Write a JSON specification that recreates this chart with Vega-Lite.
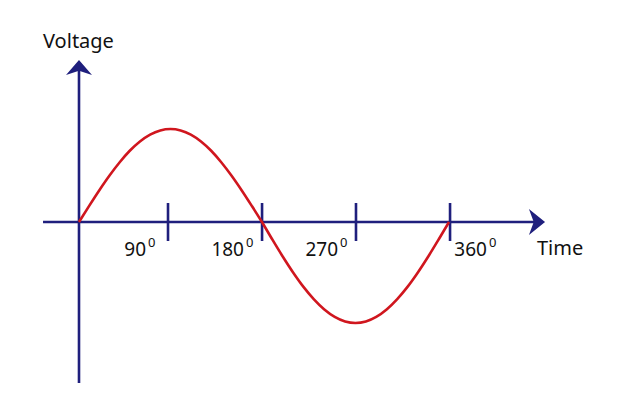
{
  "$schema": "https://vega.github.io/schema/vega-lite/v6.json",
  "width": 626,
  "height": 417,
  "autosize": "none",
  "padding": 0,
  "background": "white",
  "config": {"view": {"stroke": null}},
  "datasets": {
    "axes": [
      {"x": -35, "x2": 443.7, "y": 0, "y2": 0},
      {"x": 0, "x2": 0, "y": -1.61, "y2": 1.52}
    ],
    "ticks": [
      {"deg": 86.6, "lo": -0.19, "hi": 0.19},
      {"deg": 178.1, "lo": -0.19, "hi": 0.19},
      {"deg": 269.5, "lo": -0.19, "hi": 0.19},
      {"deg": 361, "lo": -0.19, "hi": 0.19}
    ],
    "wave": [
      {"deg": 0, "v": 0},
      {"deg": 9.9, "v": 0.1615},
      {"deg": 19.8, "v": 0.3181},
      {"deg": 29.7, "v": 0.465},
      {"deg": 39.6, "v": 0.5978},
      {"deg": 49.4, "v": 0.7124},
      {"deg": 59.3, "v": 0.8054},
      {"deg": 69.2, "v": 0.8739},
      {"deg": 79.1, "v": 0.9159},
      {"deg": 89, "v": 0.93},
      {"deg": 98.9, "v": 0.9159},
      {"deg": 108.8, "v": 0.8739},
      {"deg": 118.7, "v": 0.8054},
      {"deg": 128.6, "v": 0.7124},
      {"deg": 138.4, "v": 0.5978},
      {"deg": 148.3, "v": 0.465},
      {"deg": 158.2, "v": 0.3181},
      {"deg": 168.1, "v": 0.1615},
      {"deg": 178, "v": 0},
      {"deg": 188.1, "v": -0.1753},
      {"deg": 198.2, "v": -0.3454},
      {"deg": 208.3, "v": -0.505},
      {"deg": 218.4, "v": -0.6492},
      {"deg": 228.6, "v": -0.7737},
      {"deg": 238.7, "v": -0.8747},
      {"deg": 248.8, "v": -0.9491},
      {"deg": 258.9, "v": -0.9946},
      {"deg": 269, "v": -1.01},
      {"deg": 279.1, "v": -0.9946},
      {"deg": 289.2, "v": -0.9491},
      {"deg": 299.3, "v": -0.8747},
      {"deg": 309.4, "v": -0.7737},
      {"deg": 319.6, "v": -0.6492},
      {"deg": 329.7, "v": -0.505},
      {"deg": 339.8, "v": -0.3454},
      {"deg": 349.9, "v": -0.1753},
      {"deg": 360, "v": 0}
    ],
    "labels": [
      {"deg": 66.2, "v": -0.34, "num": "90", "sup": "0"},
      {"deg": 161.5, "v": -0.34, "num": "180", "sup": "0"},
      {"deg": 253.0, "v": -0.34, "num": "270", "sup": "0"},
      {"deg": 397.9, "v": -0.34, "num": "360", "sup": "0"}
    ],
    "titles": [
      {"deg": 445.6, "v": -0.33, "text": "Time"},
      {"deg": -35, "v": 1.74, "text": "Voltage"}
    ],
    "harrow": [{"deg": 445.6, "v": 0}],
    "varrow": [{"deg": 0, "v": 1.545}]
  },
  "encoding": {
    "x": {"field": "deg", "type": "quantitative", "scale": {"domain": [-76.86, 532.2], "nice": false, "zero": false}, "axis": null},
    "y": {"field": "v", "type": "quantitative", "scale": {"domain": [-1.95, 2.22], "nice": false, "zero": false}, "axis": null}
  },
  "layer": [
    {
      "data": {"name": "axes"},
      "mark": {"type": "rule", "color": "#1f1f7d", "strokeWidth": 2.6},
      "encoding": {
        "x": {"field": "x", "type": "quantitative"},
        "x2": {"field": "x2"},
        "y": {"field": "y", "type": "quantitative"},
        "y2": {"field": "y2"}
      }
    },
    {
      "data": {"name": "ticks"},
      "mark": {"type": "rule", "color": "#1f1f7d", "strokeWidth": 2.6},
      "encoding": {
        "y": {"field": "lo", "type": "quantitative"},
        "y2": {"field": "hi"}
      }
    },
    {
      "data": {"name": "wave"},
      "mark": {"type": "line", "color": "#d0161e", "strokeWidth": 2.6, "interpolate": "monotone"},
      "encoding": {}
    },
    {
      "data": {"name": "harrow"},
      "mark": {"type": "point", "shape": "M0.62,0 L-0.62,-1 L-0.25,0 L-0.62,1 Z", "size": 676, "filled": true, "opacity": 1, "color": "#1f1f7d", "strokeWidth": 0}
    },
    {
      "data": {"name": "varrow"},
      "mark": {"type": "point", "shape": "M0,-0.58 L1,0.58 L0,0.25 L-1,0.58 Z", "size": 676, "filled": true, "opacity": 1, "color": "#1f1f7d", "strokeWidth": 0}
    },
    {
      "data": {"name": "labels"},
      "mark": {"type": "text", "font": "Noto Sans", "fontSize": 19, "align": "right", "baseline": "alphabetic", "dx": -1, "color": "#111111"},
      "encoding": {"text": {"field": "num"}}
    },
    {
      "data": {"name": "labels"},
      "mark": {"type": "text", "font": "Noto Sans", "fontSize": 13, "align": "left", "baseline": "alphabetic", "dx": 1, "dy": -9, "color": "#111111"},
      "encoding": {"text": {"field": "sup"}}
    },
    {
      "data": {"name": "titles"},
      "mark": {"type": "text", "font": "Noto Sans", "fontSize": 20, "align": "left", "baseline": "alphabetic", "color": "#111111"},
      "encoding": {"text": {"field": "text"}}
    }
  ]
}
